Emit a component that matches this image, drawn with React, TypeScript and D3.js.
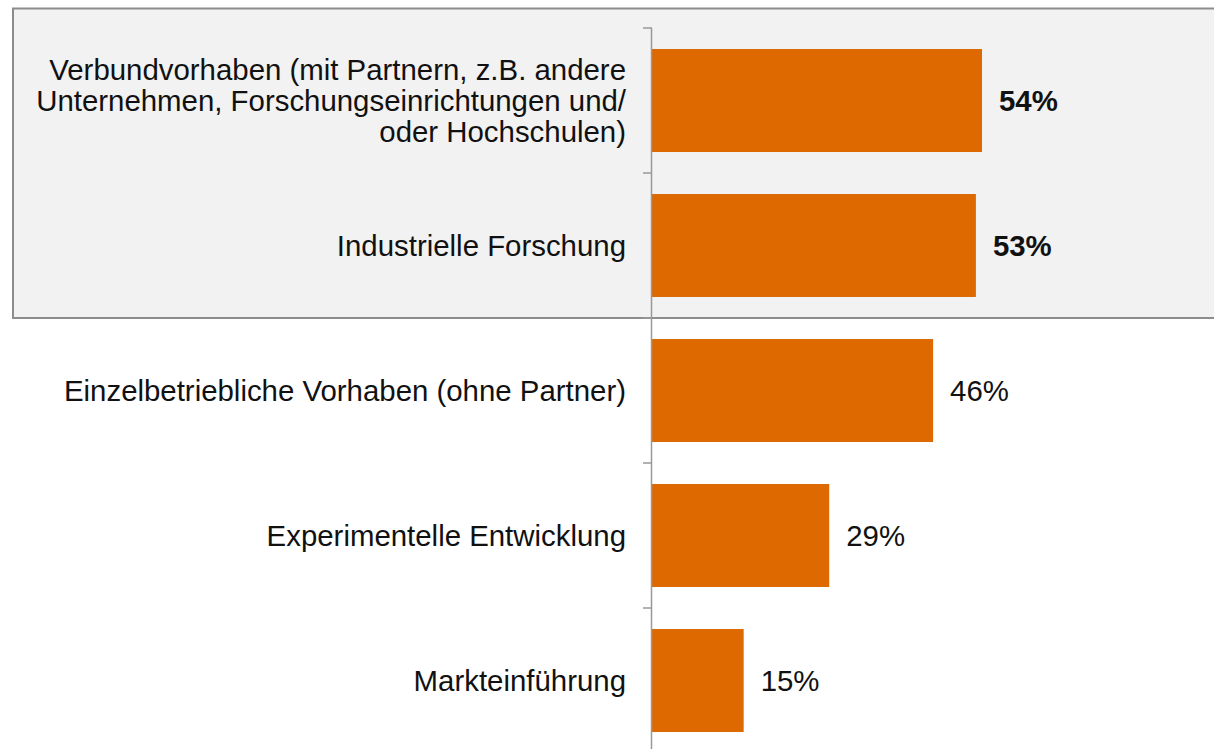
import React from "react";
import * as d3 from "d3";

const categories: string[][] = [
  ["Verbundvorhaben (mit Partnern, z.B. andere", "Unternehmen, Forschungseinrichtungen und/", "oder Hochschulen)"],
  ["Industrielle Forschung"],
  ["Einzelbetriebliche Vorhaben (ohne Partner)"],
  ["Experimentelle Entwicklung"],
  ["Markteinführung"],
];
const values: number[] = [54, 53, 46, 29, 15];
const highlighted: boolean[] = [true, true, false, false, false];

const W = 1214;
const H = 749;
const font = "'Liberation Sans', Arial, sans-serif";

export default function App() {
  const ids = categories.map((_, i) => String(i));
  const y = d3.scaleBand<string>().domain(ids).range([28, 753]).paddingInner(0.29).paddingOuter(0.145);
  const x = d3.scaleLinear().domain([0, 54]).range([652, 982]);
  const x0 = x(0);
  const boundaries = [28, ...ids.map((id) => (y(id) as number) + y.bandwidth() + (y.step() - y.bandwidth()) / 2)];
  return (
    <svg width={W} height={H} style={{ position: "absolute", left: 0, top: 0, fontFamily: font }}>
      <rect x={0} y={0} width={W} height={H} fill="#fff" />
      <rect x={13} y={8.5} width={1220} height={309.5} fill="#F2F2F2" stroke="#8C8C8C" strokeWidth={2} />
      {values.map((v, i) => {
        const by = y(ids[i]) as number;
        const bh = y.bandwidth();
        const cy = by + bh / 2;
        const lines = categories[i];
        const lh = 31;
        return (
          <g key={i}>
            <rect x={x0} y={by} width={x(v) - x0} height={bh} fill="#DD6900" />
            <text
              x={x(v) + 17}
              y={cy}
              dy="0.35em"
              fontSize={29.4}
              fontWeight={highlighted[i] ? "bold" : "normal"}
              fill="#111"
            >
              {v}%
            </text>
            {lines.map((l, j) => (
              <text
                key={j}
                x={626}
                y={cy + (j - (lines.length - 1) / 2) * lh}
                dy="0.35em"
                textAnchor="end"
                fontSize={29.4}
                fill="#111"
              >
                {l}
              </text>
            ))}
          </g>
        );
      })}
      <line x1={x0 - 0.5} x2={x0 - 0.5} y1={28} y2={H} stroke="#999" strokeWidth={1.5} />
      {boundaries.map((b, i) => (
        <line key={i} x1={643} x2={x0} y1={b} y2={b} stroke="#999" strokeWidth={1.5} />
      ))}
    </svg>
  );
}
